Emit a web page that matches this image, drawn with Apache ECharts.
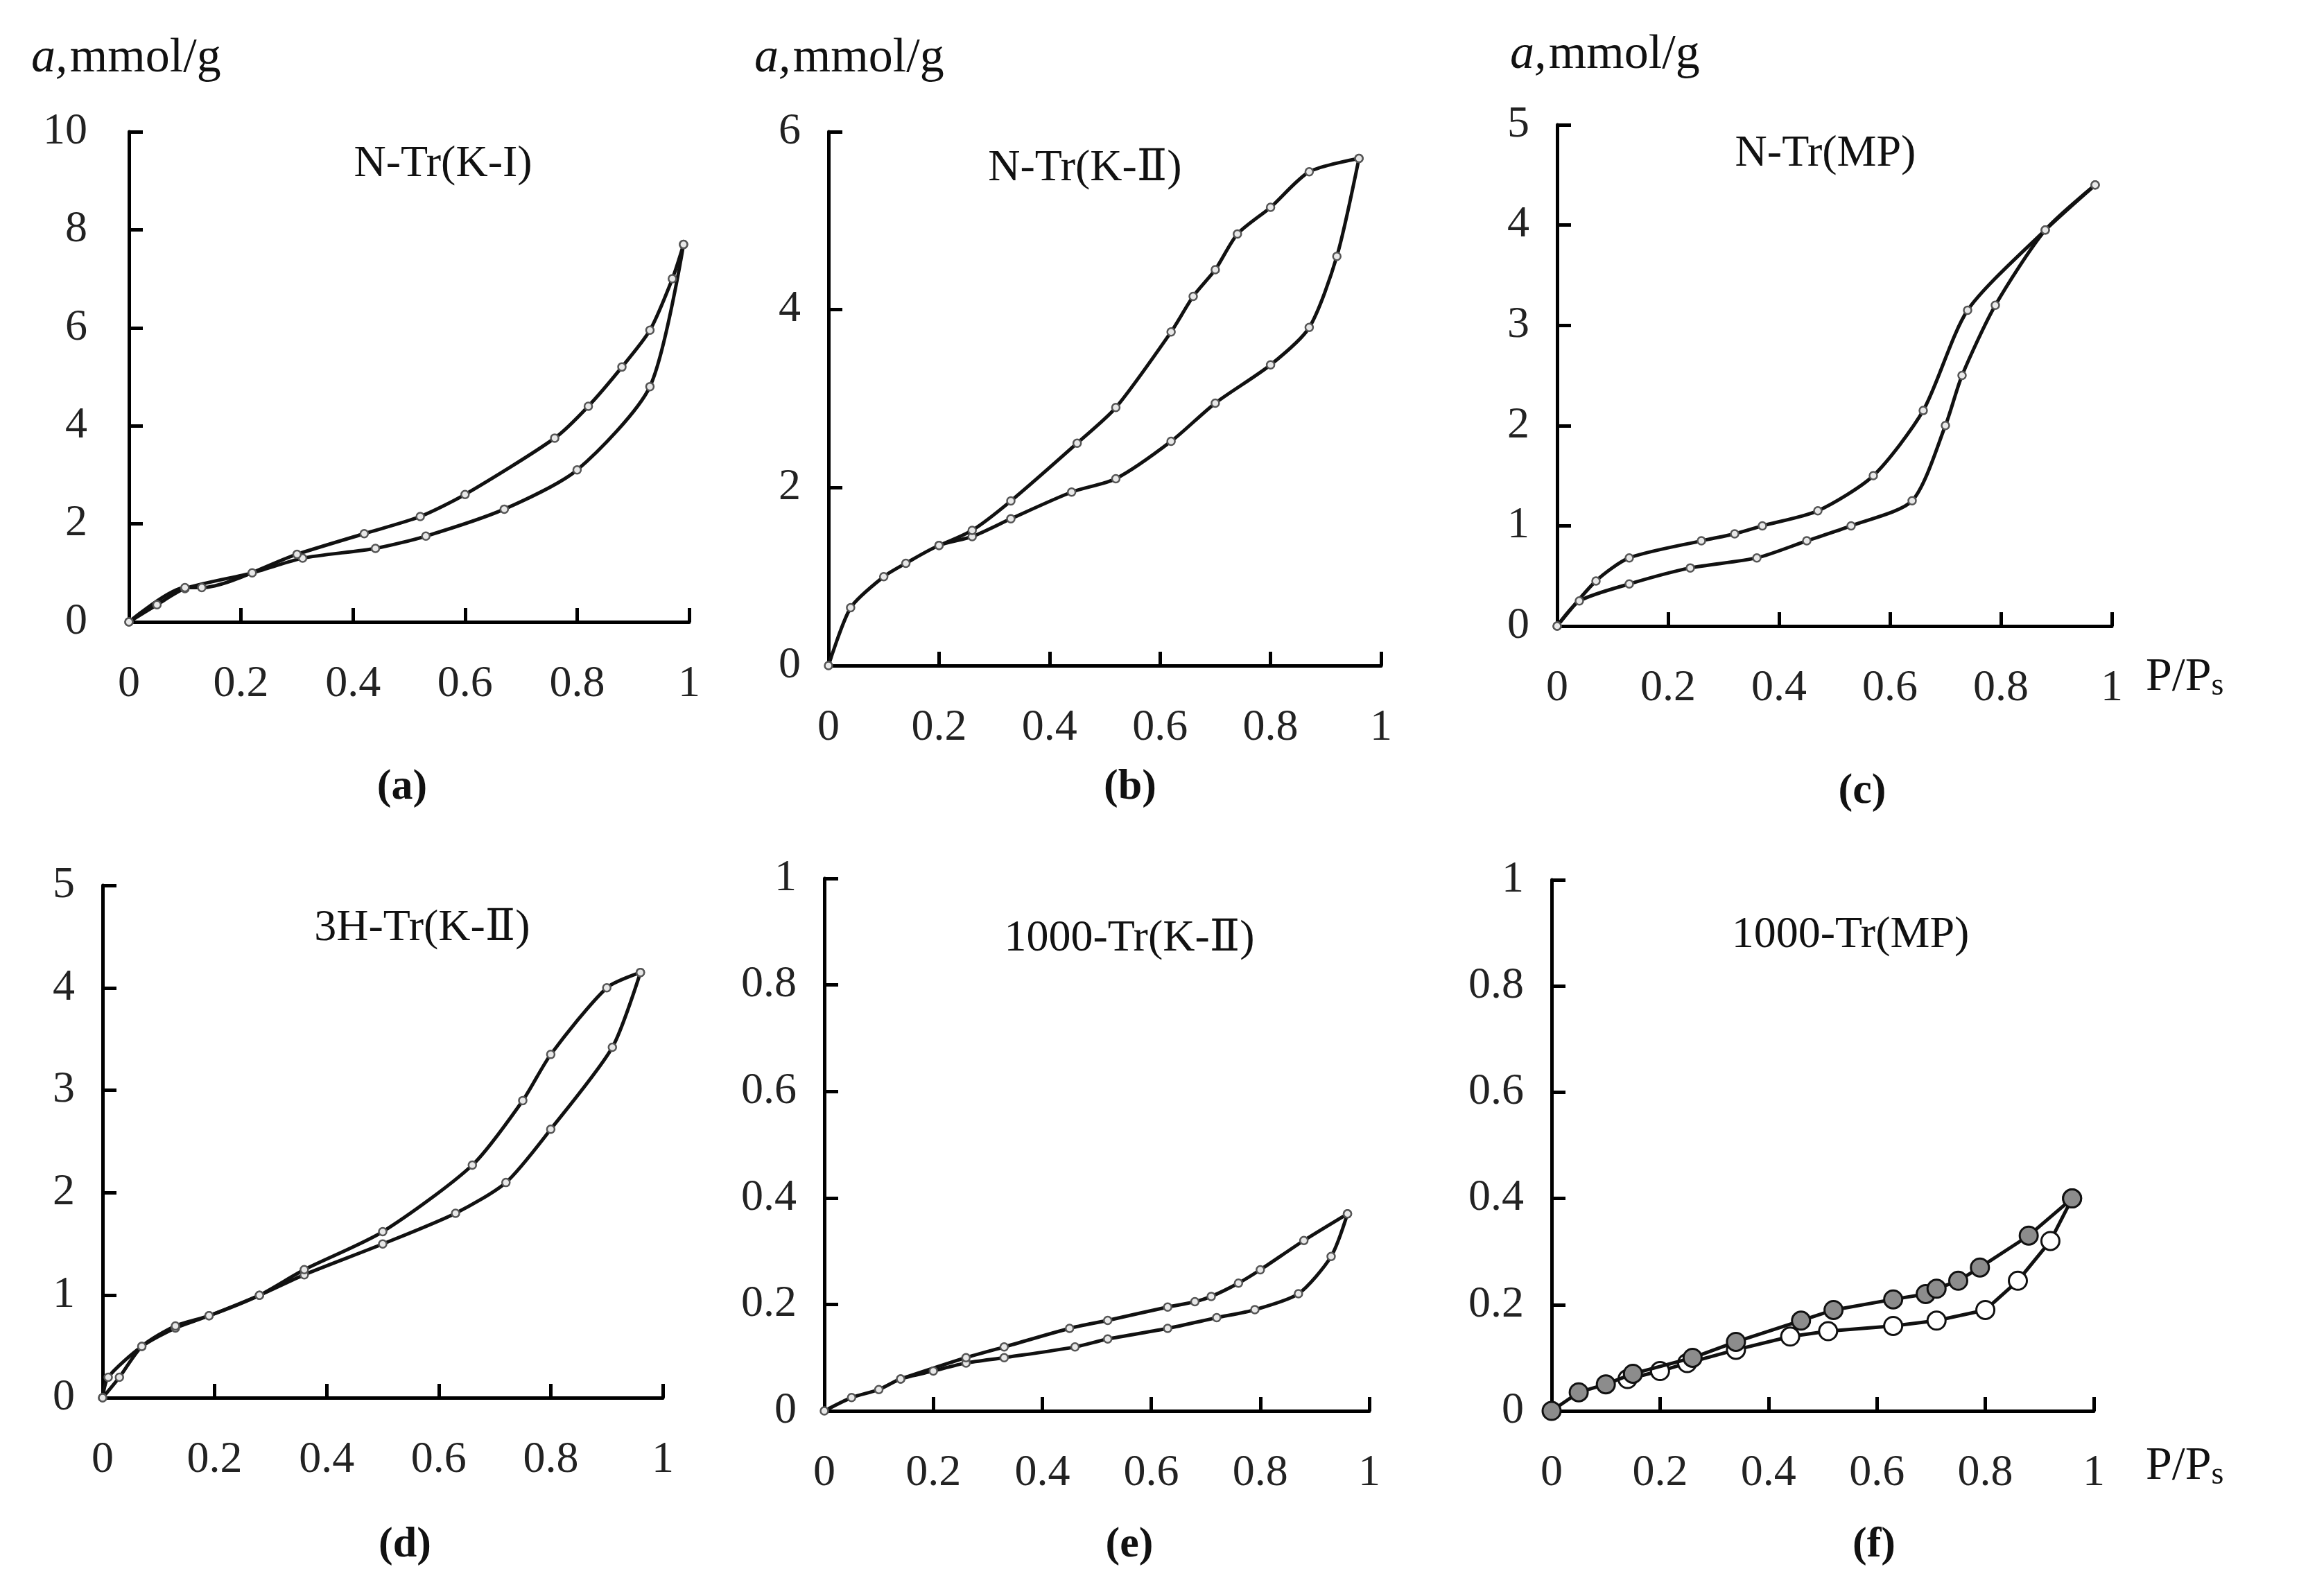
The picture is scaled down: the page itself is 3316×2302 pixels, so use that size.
<!DOCTYPE html>
<html>
<head>
<meta charset="utf-8">
<script src="https://cdn.jsdelivr.net/npm/echarts@6/dist/echarts.min.js"></script>
<style>
  html, body { margin: 0; padding: 0; background: #fff; }
  #chart { width: 3316px; height: 2302px; }
</style>
</head>
<body>
<div id="chart"></div>
<script>
// ---- data (P/Ps, a mmol/g) ----
const titles = ['N-Tr(K-I)', 'N-Tr(K-Ⅱ)', 'N-Tr(MP)', '3H-Tr(K-Ⅱ)', '1000-Tr(K-Ⅱ)', '1000-Tr(MP)'];
const panelTags = ['(a)', '(b)', '(c)', '(d)', '(e)', '(f)'];
const yMax = [10, 6, 5, 5, 1, 1];
const yStep = [2, 2, 1, 1, 0.2, 0.2];

const adsA = [[0,0],[0.05,0.35],[0.1,0.68],[0.22,1.0],[0.31,1.3],[0.44,1.5],[0.53,1.75],[0.67,2.3],[0.8,3.1],[0.93,4.8],[0.99,7.7]];
const desA = [[0.99,7.7],[0.97,7.0],[0.93,5.95],[0.88,5.2],[0.82,4.4],[0.76,3.75],[0.6,2.6],[0.52,2.15],[0.42,1.8],[0.3,1.38],[0.13,0.7],[0.1,0.7],[0,0]];
const adsB = [[0,0],[0.04,0.65],[0.1,1.0],[0.14,1.15],[0.2,1.35],[0.26,1.45],[0.33,1.65],[0.44,1.95],[0.52,2.1],[0.62,2.52],[0.7,2.95],[0.8,3.38],[0.87,3.8],[0.92,4.6],[0.96,5.7]];
const desB = [[0.96,5.7],[0.87,5.55],[0.8,5.15],[0.74,4.85],[0.7,4.45],[0.66,4.15],[0.62,3.75],[0.52,2.9],[0.45,2.5],[0.33,1.85],[0.26,1.52],[0.2,1.35]];
const adsC = [[0,0],[0.04,0.25],[0.13,0.42],[0.24,0.58],[0.36,0.68],[0.45,0.85],[0.53,1.0],[0.64,1.25],[0.7,2.0],[0.73,2.5],[0.79,3.2],[0.88,3.95],[0.97,4.4]];
const desC = [[0.97,4.4],[0.88,3.95],[0.74,3.15],[0.66,2.15],[0.57,1.5],[0.47,1.15],[0.37,1.0],[0.32,0.92],[0.26,0.85],[0.13,0.68],[0.07,0.45],[0,0]];
const adsD = [[0,0],[0.01,0.2],[0.07,0.5],[0.13,0.68],[0.19,0.8],[0.28,1.0],[0.36,1.2],[0.5,1.5],[0.63,1.8],[0.72,2.1],[0.8,2.62],[0.91,3.42],[0.96,4.15]];
const desD = [[0.96,4.15],[0.9,4.0],[0.8,3.35],[0.75,2.9],[0.66,2.27],[0.5,1.62],[0.36,1.25],[0.28,1.0],[0.19,0.8],[0.13,0.7],[0.07,0.5],[0.03,0.2],[0,0]];
const adsE = [[0,0],[0.05,0.025],[0.1,0.04],[0.14,0.06],[0.2,0.075],[0.26,0.09],[0.33,0.1],[0.46,0.12],[0.52,0.135],[0.63,0.155],[0.72,0.175],[0.79,0.19],[0.87,0.22],[0.93,0.29],[0.96,0.37]];
const desE = [[0.96,0.37],[0.88,0.32],[0.8,0.265],[0.76,0.24],[0.71,0.215],[0.68,0.205],[0.63,0.195],[0.52,0.17],[0.45,0.155],[0.33,0.12],[0.26,0.1],[0.14,0.06]];
const desF = [[0,0],[0.05,0.035],[0.1,0.05],[0.15,0.07],[0.26,0.1],[0.34,0.13],[0.46,0.17],[0.52,0.19],[0.63,0.21],[0.69,0.22],[0.71,0.23],[0.75,0.245],[0.79,0.27],[0.88,0.33],[0.96,0.4]];
const adsF = [[0.14,0.06],[0.2,0.075],[0.25,0.09],[0.34,0.115],[0.44,0.14],[0.51,0.15],[0.63,0.16],[0.71,0.17],[0.8,0.19],[0.86,0.245],[0.92,0.32],[0.96,0.4]];

const branches = [[adsA, desA], [adsB, desB], [adsC, desC], [adsD, desD], [adsE, desE], [desF, adsF]];

// ---- layout (pixel boxes of each plot area) ----
const boxes = [
  { left: 186, top: 190, right: 994, bottom: 897 },
  { left: 1195, top: 190, right: 1992, bottom: 960 },
  { left: 2246, top: 180, right: 3046, bottom: 903 },
  { left: 148, top: 1277, right: 956, bottom: 2016 },
  { left: 1189, top: 1267, right: 1975, bottom: 2035 },
  { left: 2238, top: 1269, right: 3020, bottom: 2035 }
];
const titlePos = [[639,237],[1565,243],[2633,222],[609,1339],[1629,1354],[2669,1349]];
const tagPos = [[580,1136],[1630,1136],[2686,1142],[584,2229],[1629,2229],[2703,2229]];

const FONT = '"Liberation Serif", "DejaVu Serif", serif';
const W = 3316, H = 2302;

const grid = [], xAxis = [], yAxis = [], series = [], graphic = [];
const fmt = v => String(Math.round(v * 10) / 10);

boxes.forEach((b, i) => {
  grid.push({ left: b.left, top: b.top, width: b.right - b.left, height: b.bottom - b.top });
  const axisLine = { show: true, onZero: false, lineStyle: { color: '#000', width: 5 } };
  const axisTick = { show: true, inside: true, length: 20, lineStyle: { color: '#000', width: 5 } };
  xAxis.push({
    type: 'value', gridIndex: i, min: 0, max: 1, interval: 0.2,
    axisLine, axisTick, splitLine: { show: false },
    axisLabel: { color: '#222', fontFamily: FONT, fontSize: 64, margin: 58, formatter: fmt }
  });
  yAxis.push({
    type: 'value', gridIndex: i, min: 0, max: yMax[i], interval: yStep[i],
    axisLine, axisTick, splitLine: { show: false },
    axisLabel: { color: '#222', fontFamily: FONT, fontSize: 64, margin: i === 0 ? 60 : 40, formatter: fmt }
  });

  const isF = i === 5;
  branches[i].forEach((data, k) => {
    series.push({
      type: 'line', xAxisIndex: i, yAxisIndex: i, data,
      smooth: isF ? false : 0.25,
      symbol: 'circle',
      symbolSize: isF ? 26 : 11,
      itemStyle: {
        color: isF ? (k === 0 ? '#8c8c8c' : '#fff') : '#e8e8e8',
        borderColor: isF ? '#111' : '#555',
        borderWidth: isF ? 3 : 2.5
      },
      lineStyle: { color: '#111', width: 5 },
      z: isF && k === 0 ? 3 : 2
    });
  });

  graphic.push({
    type: 'text', x: titlePos[i][0], y: titlePos[i][1],
    style: { text: titles[i], font: '64px ' + FONT, fill: '#111', align: 'center', verticalAlign: 'middle' }
  });
  graphic.push({
    type: 'text', x: tagPos[i][0], y: tagPos[i][1],
    style: { text: panelTags[i], font: 'bold 62px ' + FONT, fill: '#111', align: 'center', verticalAlign: 'middle' }
  });
});

// y-axis names
[[45, 85], [1088, 85], [2178, 80]].forEach(p => {
  graphic.push({
    type: 'text', x: p[0], y: p[1],
    style: {
      text: '{i|a,} {n|mmol/g}', verticalAlign: 'middle',
      rich: {
        i: { font: 'italic 70px ' + FONT, fill: '#111' },
        n: { font: '70px ' + FONT, fill: '#111' }
      }
    }
  });
});
// x-axis names
[[3095, 977], [3095, 2115]].forEach(p => {
  graphic.push({
    type: 'text', x: p[0], y: p[1],
    style: {
      text: '{n|P/P}{s|s}', verticalAlign: 'middle',
      rich: {
        n: { font: '68px ' + FONT, fill: '#111' },
        s: { font: '46px ' + FONT, fill: '#111', verticalAlign: 'bottom', padding: [26, 0, 0, 0] }
      }
    }
  });
});

const chart = echarts.init(document.getElementById('chart'), null, { renderer: 'canvas', width: W, height: H });
chart.setOption({
  backgroundColor: '#fff',
  animation: false,
  grid, xAxis, yAxis, series, graphic
});
</script>
</body>
</html>
